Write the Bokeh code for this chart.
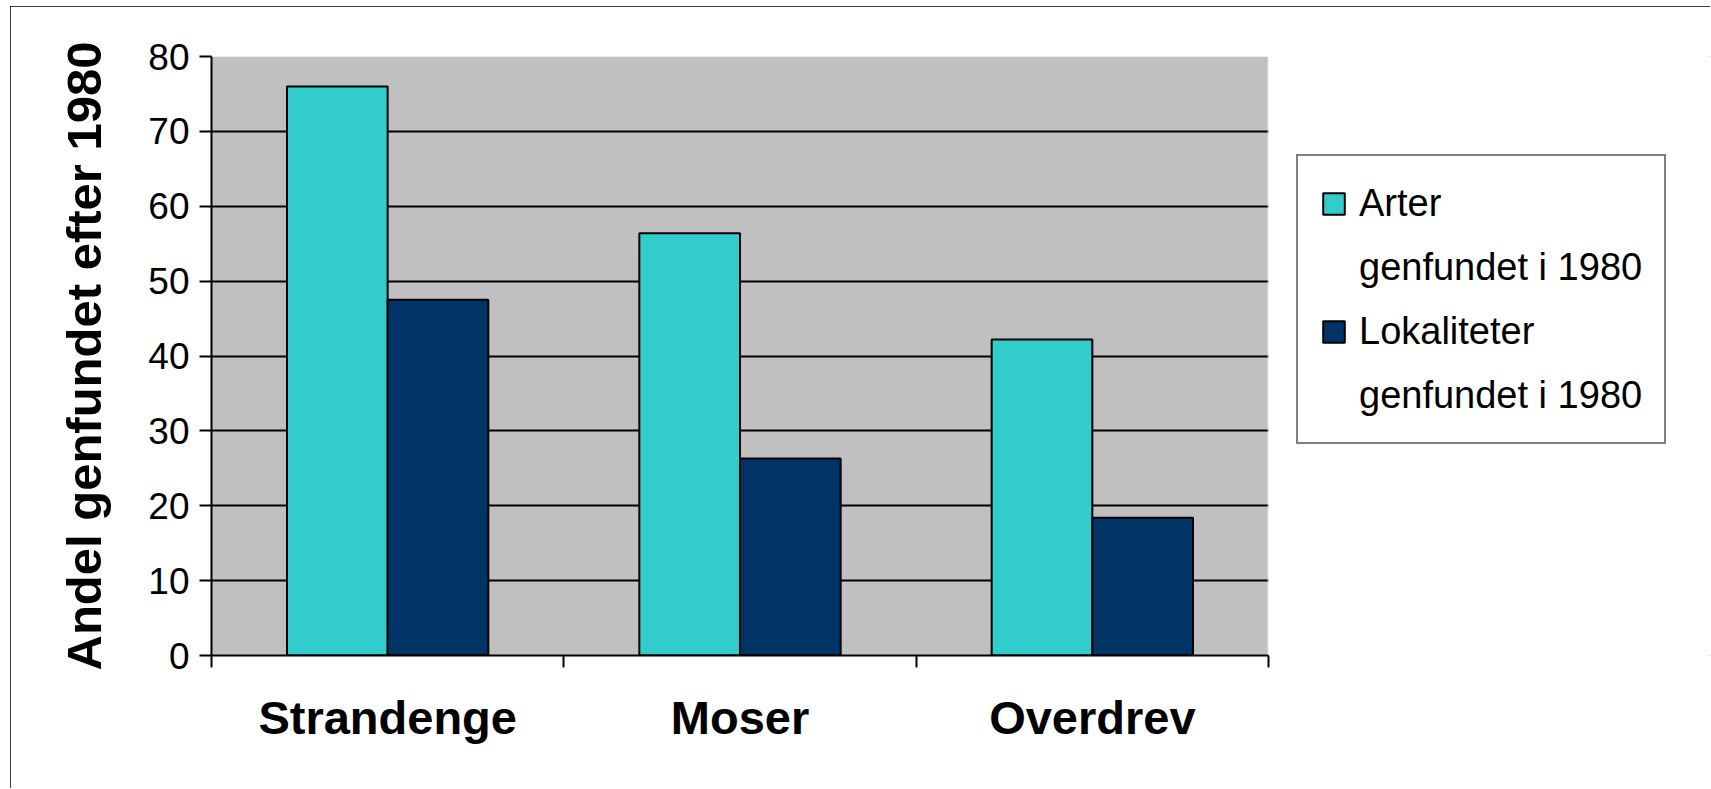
from bokeh.plotting import figure
from bokeh.models import (Range1d, ColumnDataSource, Legend, LegendItem, FixedTicker,
                          BoxAnnotation)
from bokeh.transform import dodge
from bokeh.embed import file_html
from bokeh.resources import INLINE

# ---- data ----
categories = ["Strandenge", "Moser", "Overdrev"]
arter = [76.0, 56.4, 42.2]
lokaliteter = [47.5, 26.3, 18.4]
series_names = ["Arter", "Lokaliteter"]
series_second_line = "genfundet i 1980"
y_ticks = [0, 10, 20, 30, 40, 50, 60, 70, 80]
y_title = "Andel genfundet efter 1980"

FONT = "Liberation Sans"
W, H = 1700, 782
BL, BR, BT, BB = 201, 0, 50, 133           # borders around the drawing frame
PLOT_W = 1057                               # width of the grey plot area in px

n = len(categories)
centers = [i + 0.5 for i in range(n)]
bounds = list(range(n + 1))
frame_w = W - BL - BR
x_end = n * frame_w / PLOT_W                # frame also hosts the legend on the right

p = figure(width=W, height=H,
           x_range=Range1d(0, x_end), y_range=Range1d(0, 80),
           output_backend="svg", toolbar_location=None,
           min_border_left=BL, min_border_right=BR,
           min_border_top=BT, min_border_bottom=BB)
p.styles = {"margin-left": "10px", "margin-top": "6px",
            "outline": "2px solid black", "outline-offset": "-2px"}
p.background_fill_color = "white"
p.border_fill_color = "white"
p.outline_line_color = None

# grey plot area (categories 0..n)
p.add_layout(BoxAnnotation(left=0, right=n, fill_color="#C0C0C0", fill_alpha=1.0,
                           line_color=None, level="image"))

src = ColumnDataSource(dict(x=centers, cat=categories, arter=arter, lok=lokaliteter))
bw = 1.0 / 3.5
r1 = p.vbar(x=dodge("x", -bw / 2), top="arter", width=bw, source=src,
            fill_color="#33CCCC", line_color="black", line_width=2)
r2 = p.vbar(x=dodge("x", bw / 2), top="lok", width=bw, source=src,
            fill_color="#003366", line_color="black", line_width=2)
# empty, invisible renderer used only for the legend's second text lines
blank = p.vbar(x=[], top=[], width=bw, fill_alpha=0, line_alpha=0)

# grid
p.xgrid.visible = False
p.ygrid.ticker = FixedTicker(ticks=y_ticks)
p.ygrid.grid_line_color = "black"
p.ygrid.grid_line_width = 2

# keep grid lines out of the legend region
p.add_layout(BoxAnnotation(left=n, fill_color="white", fill_alpha=1.0,
                           line_color="white", line_width=3, level="underlay"))

# y axis
ya = p.yaxis[0]
ya.ticker = FixedTicker(ticks=y_ticks)
ya.axis_line_color = "black"
ya.axis_line_width = 2
ya.major_tick_line_width = 2
ya.major_tick_out = 12
ya.major_tick_in = 0
ya.minor_tick_line_color = None
ya.major_label_standoff = 10
ya.major_label_text_font = FONT
ya.major_label_text_font_size = "37px"
ya.major_label_text_color = "black"
ya.axis_label = y_title
ya.axis_label_text_font = FONT
ya.axis_label_text_font_size = "49px"
ya.axis_label_text_font_style = "bold"
ya.axis_label_text_color = "black"
ya.axis_label_standoff = 34

# x axis: category names at centres, tick marks at category boundaries
xa = p.xaxis[0]
xa.bounds = (0, n)
xa.ticker = FixedTicker(ticks=centers, minor_ticks=bounds)
xa.major_label_overrides = {c: name for c, name in zip(centers, categories)}
xa.axis_line_color = "black"
xa.axis_line_width = 2
xa.major_tick_line_color = None
xa.major_tick_out = 0
xa.major_tick_in = 0
xa.minor_tick_line_color = "black"
xa.minor_tick_line_width = 2
xa.minor_tick_out = 12
xa.minor_tick_in = 0
xa.major_label_standoff = 23
xa.major_label_text_font = FONT
xa.major_label_text_font_size = "47px"
xa.major_label_text_font_style = "bold"
xa.major_label_text_color = "black"

legend = Legend(items=[LegendItem(label=series_names[0], renderers=[r1]),
                       LegendItem(label=series_second_line, renderers=[blank]),
                       LegendItem(label=series_names[1], renderers=[r2]),
                       LegendItem(label=series_second_line, renderers=[blank])],
                location=(1085, 211), padding=22, spacing=14, margin=0,
                glyph_width=27, glyph_height=27, label_height=50, label_standoff=12,
                label_text_font=FONT, label_text_font_size="38px", label_text_color="black",
                border_line_color="black", border_line_width=2,
                background_fill_color="white", background_fill_alpha=1.0)
p.add_layout(legend, "center")

open("out.html", "w").write(file_html(p, INLINE))
